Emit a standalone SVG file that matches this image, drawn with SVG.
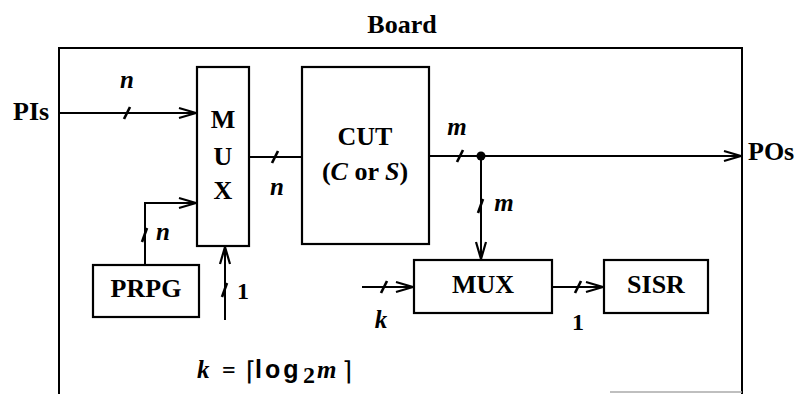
<svg xmlns="http://www.w3.org/2000/svg" width="805" height="394" viewBox="0 0 805 394">
<style>
.ln{stroke:#000;stroke-width:2;fill:none;stroke-linecap:butt}
.box{stroke:#000;stroke-width:2.2;fill:#fff}
.t{font-family:"Liberation Serif",serif;font-weight:bold;font-size:26px;fill:#000}
.lab{font-family:"Liberation Serif",serif;font-weight:bold;font-style:italic;font-size:25px;fill:#000}
.one{font-family:"Liberation Serif",serif;font-weight:bold;font-size:24px;fill:#000}
.tick{stroke:#000;stroke-width:2.6;fill:none}
</style>
<defs>
<marker id="arr" viewBox="-18 -7 20 14" refX="0" refY="0" markerWidth="20" markerHeight="14" markerUnits="userSpaceOnUse" orient="auto">
<path d="M-17,-5 L0,0 L-17,5" fill="none" stroke="#000" stroke-width="2.2"/>
</marker>
</defs>

<g id="board">
<path class="ln" d="M59,394 V48 H742 V394"/>
<line x1="610" y1="392" x2="742" y2="392" stroke="#aaa" stroke-width="1.5"/>
<text class="t" x="402" y="33" text-anchor="middle">Board</text>
</g>

<g id="pis"><text class="t" x="13" y="120">PIs</text></g>
<g id="pos"><text class="t" x="748" y="160">POs</text></g>

<g id="mux1">
<rect class="box" x="197" y="67" width="52" height="179"/>
<text class="t" x="223" y="128" text-anchor="middle">M</text>
<text class="t" x="223" y="165" text-anchor="middle">U</text>
<text class="t" x="223" y="199" text-anchor="middle">X</text>
</g>

<g id="cut">
<rect class="box" x="302" y="67" width="127" height="177"/>
<text class="t" x="365" y="145" text-anchor="middle">CUT</text>
<text class="t" x="365" y="180" text-anchor="middle">(<tspan font-style="italic">C</tspan> or <tspan font-style="italic">S</tspan>)</text>
</g>

<g id="prpg">
<rect class="box" x="93" y="265" width="106" height="52"/>
<text class="t" x="146" y="297" text-anchor="middle">PRPG</text>
</g>

<g id="mux2">
<rect class="box" x="414" y="260" width="138" height="53"/>
<text class="t" x="483" y="293" text-anchor="middle">MUX</text>
</g>

<g id="sisr">
<rect class="box" x="604" y="260" width="104" height="53"/>
<text class="t" x="656" y="293" text-anchor="middle">SISR</text>
</g>

<g id="connectors">
<line class="ln" x1="59" y1="113" x2="196" y2="113" marker-end="url(#arr)"/>
<line class="tick" x1="124" y1="119" x2="130" y2="107"/>
<text class="lab" x="127" y="88" text-anchor="middle">n</text>

<line class="ln" x1="249" y1="157" x2="302" y2="157"/>
<line class="tick" x1="272" y1="163" x2="278" y2="151"/>
<text class="lab" x="277" y="195" text-anchor="middle">n</text>

<line class="ln" x1="429" y1="156" x2="741" y2="156" marker-end="url(#arr)"/>
<line class="tick" x1="457" y1="162" x2="463" y2="150"/>
<text class="lab" x="457" y="135" text-anchor="middle">m</text>
<circle cx="481" cy="156" r="4.5" fill="#000"/>

<line class="ln" x1="481" y1="156" x2="481" y2="259" marker-end="url(#arr)"/>
<line class="tick" x1="478" y1="213" x2="483" y2="199"/>
<text class="lab" x="504" y="211" text-anchor="middle">m</text>

<path class="ln" d="M145,265 V203 H196" marker-end="url(#arr)"/>
<line class="tick" x1="142" y1="242" x2="147" y2="228"/>
<text class="lab" x="163" y="240" text-anchor="middle">n</text>

<line class="ln" x1="225" y1="320" x2="225" y2="247" marker-end="url(#arr)"/>
<line class="tick" x1="222" y1="297" x2="227" y2="283"/>
<text class="one" x="243" y="299" text-anchor="middle">1</text>

<line class="ln" x1="362" y1="287" x2="413" y2="287" marker-end="url(#arr)"/>
<line class="tick" x1="381" y1="293" x2="387" y2="281"/>
<text class="lab" x="381" y="328" text-anchor="middle">k</text>

<line class="ln" x1="552" y1="287" x2="603" y2="287" marker-end="url(#arr)"/>
<line class="tick" x1="575" y1="293" x2="581" y2="281"/>
<text class="one" x="578" y="330" text-anchor="middle">1</text>
</g>

<g id="formula">
<text class="lab" x="197" y="378" font-size="26">k</text>
<text class="one" x="222" y="378" font-size="26">=</text>
<text x="246" y="380" font-family="DejaVu Sans,sans-serif" font-size="26" fill="#000">⌈</text>
<text x="255" y="378" font-family="Liberation Sans,sans-serif" font-weight="bold" font-size="25" letter-spacing="3" fill="#000">log</text>
<text class="one" x="303" y="383" font-size="18">2</text>
<text class="lab" x="317" y="378" font-size="31">m</text>
<text x="342" y="380" font-family="DejaVu Sans,sans-serif" font-size="26" fill="#000">⌉</text>
</g>
</svg>
